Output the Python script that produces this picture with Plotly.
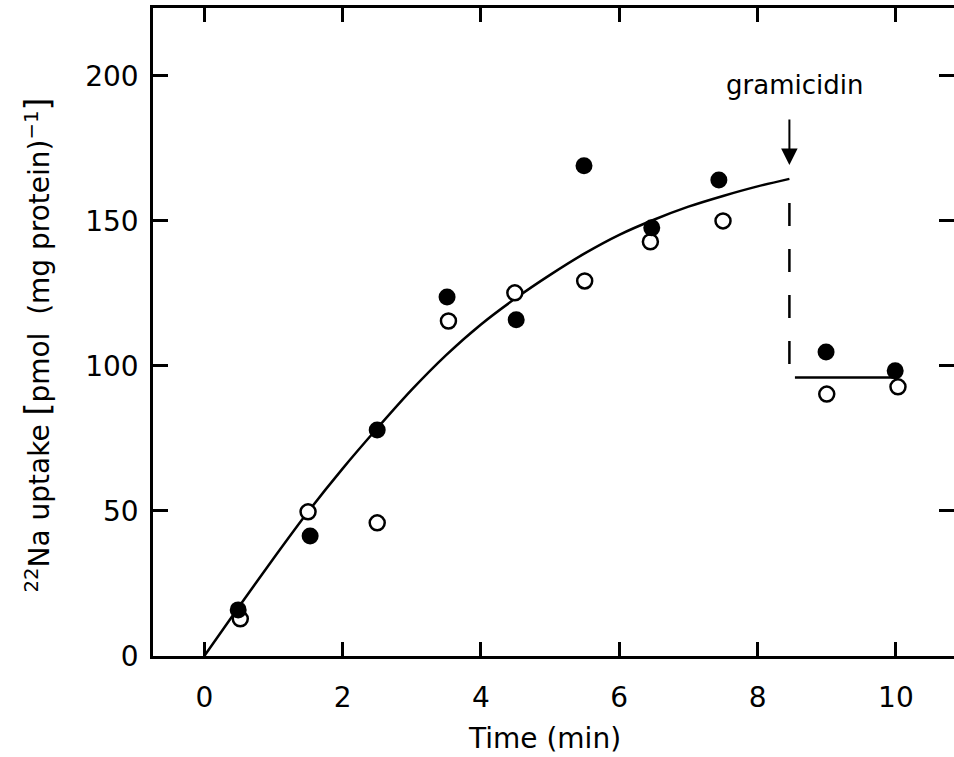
import plotly.graph_objects as go

# ---- data ----
time_filled = [0.49, 1.53, 2.50, 3.51, 4.51, 5.49, 6.47, 7.44, 8.99, 9.99]
uptake_filled = [15.9, 41.4, 77.9, 123.8, 115.9, 169.0, 147.6, 164.1, 104.8, 98.3]

time_open = [0.52, 1.50, 2.50, 3.53, 4.49, 5.50, 6.45, 7.50, 9.00, 10.03]
uptake_open = [12.8, 49.7, 45.9, 115.5, 125.2, 129.3, 142.8, 150.0, 90.3, 92.8]

curve_time = [0, 0.5, 1, 1.5, 2, 2.5, 3, 3.5, 4, 4.5, 5, 5.5, 6, 6.5, 7, 7.5, 8, 8.46]
curve_uptake = [0, 17.0, 33.6, 49.7, 64.6, 78.5, 91.8, 103.8, 114.3, 123.3, 131.4,
                138.8, 145.2, 150.4, 154.9, 158.6, 161.9, 164.5]

gramicidin_time = 8.46
drop_dash_uptake = [156.2, 100.3]
plateau_time = [8.54, 9.96]
plateau_uptake = [96.0, 96.0]
arrow_tail_uptake = 185.5
arrow_tip_uptake = 169.3
label_time = 8.53
label_uptake = 196.9

x_ticks = [0, 2, 4, 6, 8, 10]
y_ticks = [0, 50, 100, 150, 200]
x_range = [-0.742, 10.84]
y_range = [0, 223.4]

FONT = "DejaVu Sans"

fig = go.Figure()

fig.add_trace(go.Scatter(x=curve_time, y=curve_uptake, mode="lines",
                         line=dict(color="black", width=2.5, shape="spline", smoothing=0.8),
                         showlegend=False, hoverinfo="skip"))
fig.add_trace(go.Scatter(x=[gramicidin_time, gramicidin_time], y=drop_dash_uptake, mode="lines",
                         line=dict(color="black", width=2.5, dash="23px,23px"),
                         showlegend=False, hoverinfo="skip"))
fig.add_trace(go.Scatter(x=plateau_time, y=plateau_uptake, mode="lines",
                         line=dict(color="black", width=2.5),
                         showlegend=False, hoverinfo="skip"))
fig.add_trace(go.Scatter(x=time_open, y=uptake_open, mode="markers",
                         marker=dict(symbol="circle", size=15, color="white",
                                     line=dict(color="black", width=2.5)),
                         showlegend=False))
fig.add_trace(go.Scatter(x=time_filled, y=uptake_filled, mode="markers",
                         marker=dict(symbol="circle", size=17, color="black",
                                     line=dict(color="black", width=0)),
                         showlegend=False))
# empty trace to carry the right-hand tick axis
fig.add_trace(go.Scatter(x=[], y=[], yaxis="y2", showlegend=False, hoverinfo="skip"))

fig.add_annotation(x=gramicidin_time, y=arrow_tip_uptake, ax=gramicidin_time, ay=arrow_tail_uptake,
                   xref="x", yref="y", axref="x", ayref="y", text="", showarrow=True,
                   arrowhead=2, arrowsize=1.65, arrowwidth=2, arrowcolor="black")
fig.add_annotation(x=label_time, y=label_uptake, xref="x", yref="y", text="gramicidin",
                   showarrow=False, font=dict(family=FONT, size=26, color="black"),
                   xanchor="center", yanchor="middle")

fig.add_annotation(x=0.489, y=-0.127, xref="paper", yref="paper", text="Time (min)",
                   showarrow=False, font=dict(family=FONT, size=28, color="black"),
                   xanchor="center", yanchor="middle")
fig.add_annotation(x=-0.143, y=0.48, xref="paper", yref="paper",
                   text="<sup>22</sup>Na uptake <span style='font-size:33px'>[</span>pmol\u00a0 (mg protein)<sup>\u22121</sup><span style='font-size:33px'>]</span>",
                   textangle=-90, showarrow=False, font=dict(family=FONT, size=28, color="black"),
                   xanchor="center", yanchor="middle")

axis_common = dict(showgrid=False, zeroline=False, ticks="inside", tickwidth=2.5,
                   tickcolor="black", linecolor="black", linewidth=2.5)

fig.update_layout(
    width=954, height=757,
    margin=dict(l=153, r=0, t=8, b=101),
    paper_bgcolor="white", plot_bgcolor="white",
    xaxis=dict(range=x_range, tickvals=x_ticks, ticklen=14, showline=True, mirror="ticks",
               tickfont=dict(family=FONT, size=28, color="black"), ticklabelstandoff=15,
               **axis_common),
    yaxis=dict(range=y_range, tickvals=y_ticks, ticklen=15, showline=True,
               tickfont=dict(family=FONT, size=28, color="black"), ticklabelstandoff=6,
               **axis_common),
    yaxis2=dict(range=y_range, tickvals=y_ticks, ticklen=15, overlaying="y", side="right",
                showticklabels=False, showgrid=False, zeroline=False, showline=False,
                ticks="inside", tickwidth=2.5, tickcolor="black"),
)

fig.write_html("out.html", config={"displayModeBar": False},
               post_script="document.body.style.margin='0px';document.body.style.overflow='hidden';")
